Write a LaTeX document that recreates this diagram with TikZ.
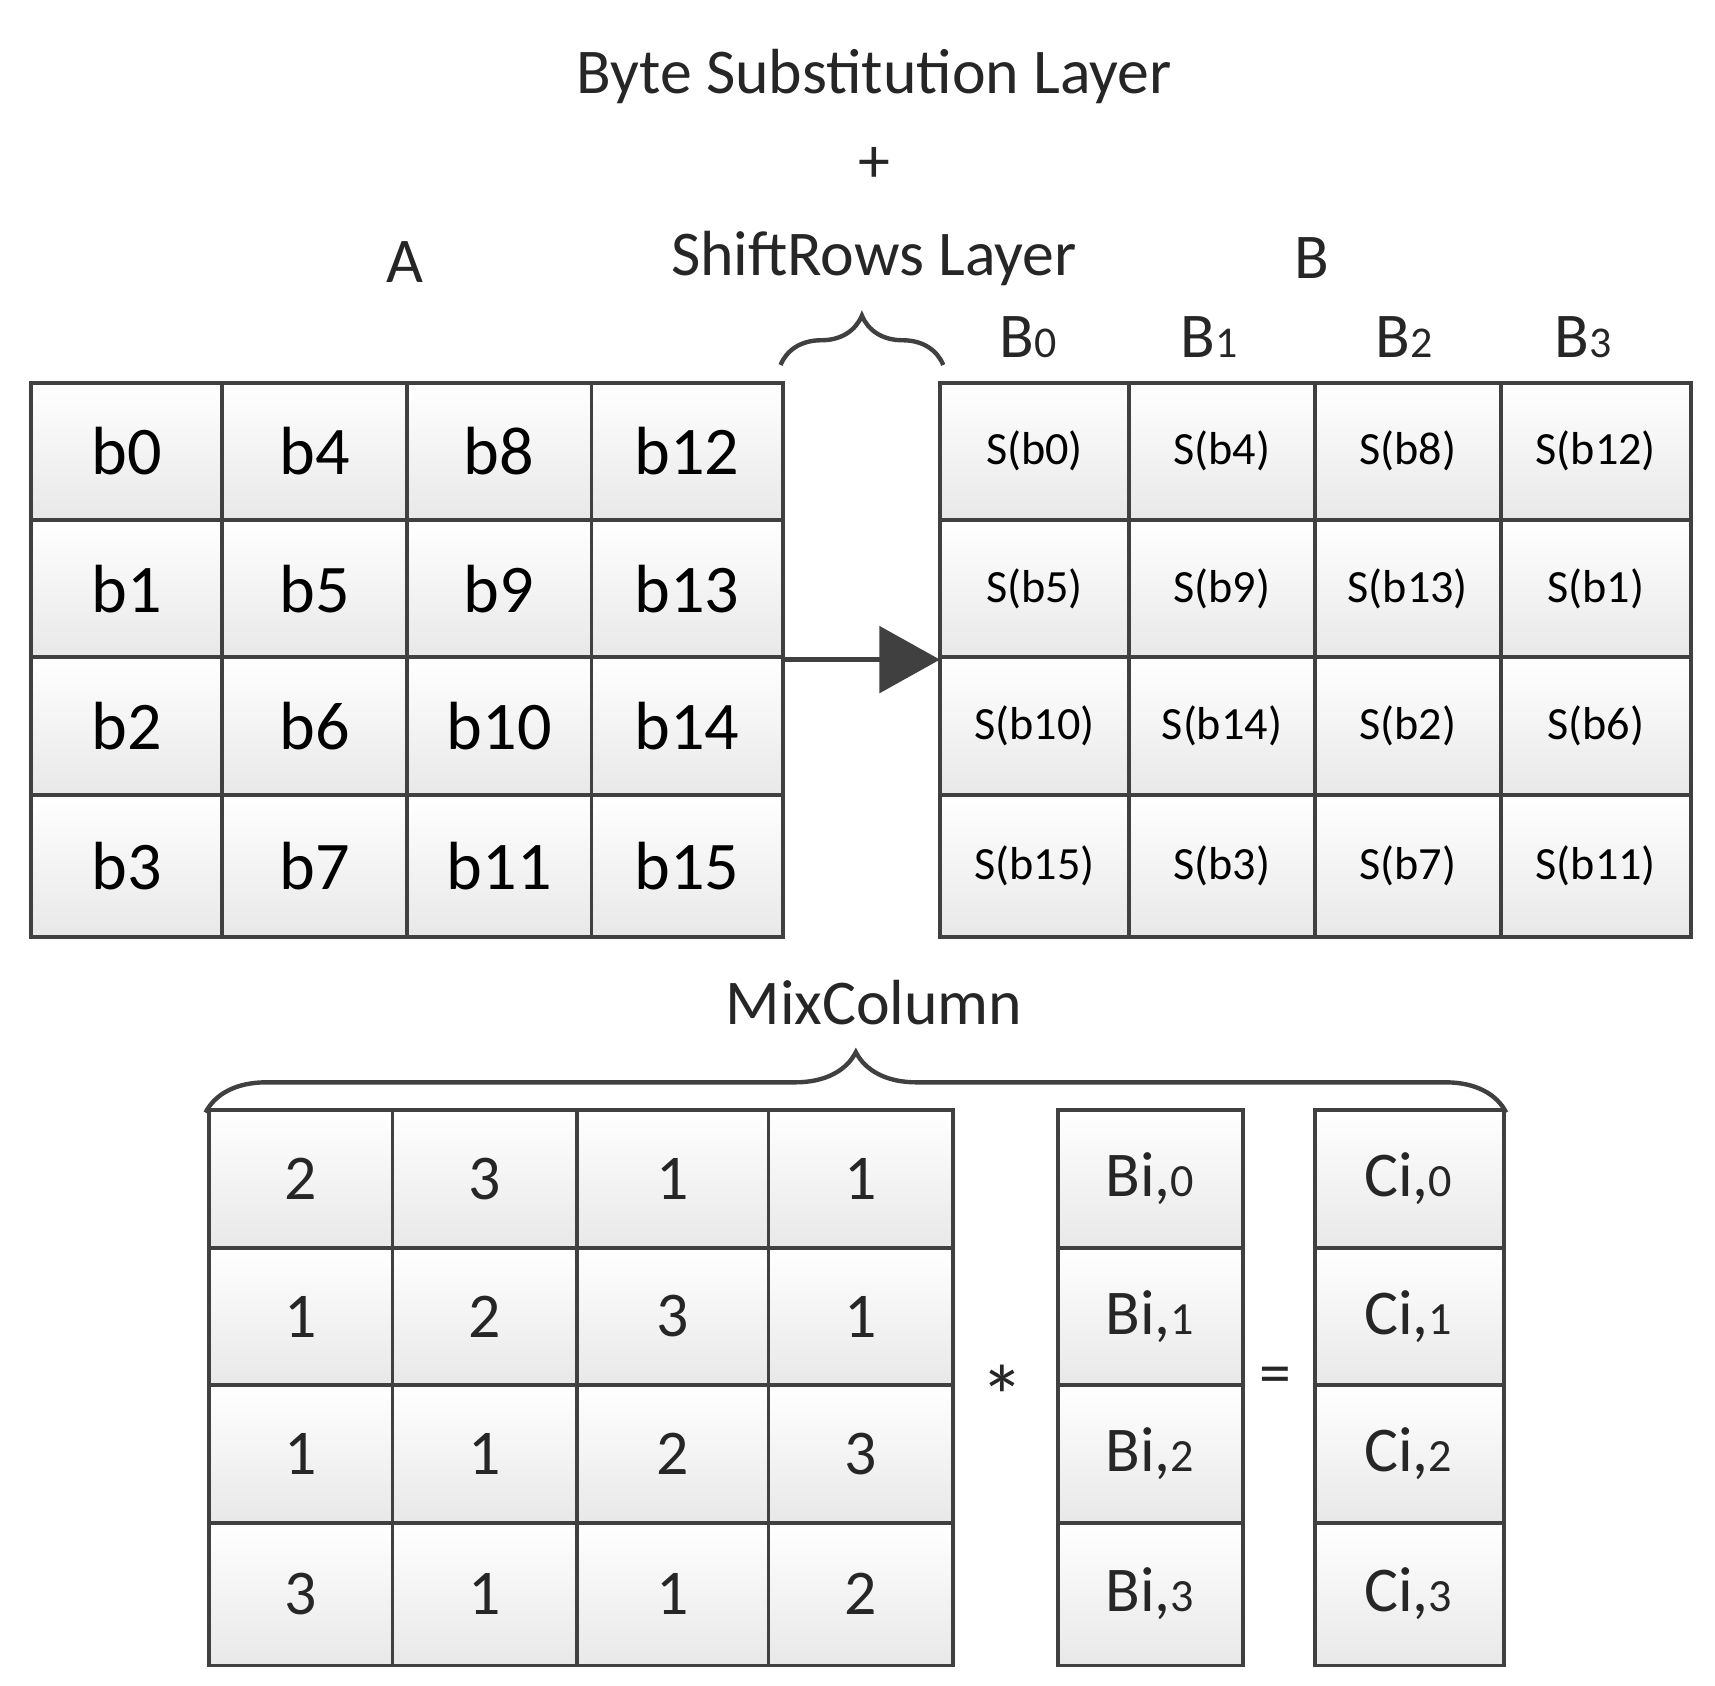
\documentclass[tikz,border=0pt]{standalone}
\usepackage{fontspec}
\setmainfont{Carlito}
\usetikzlibrary{decorations.pathreplacing,arrows.meta,calc}
\begin{document}
\begin{tikzpicture}[x=1pt,y=-1pt,
  cell/.style={draw=black!75,line width=3.5pt,top color=white,bottom color=black!9,inner sep=0pt},
  big/.style={font=\fontsize{62}{64}\selectfont},
  small/.style={font=\fontsize{42}{44}\selectfont},
  lab/.style={font=\fontsize{58}{60}\selectfont,text=black!85},
  brc/.style={decorate,decoration={brace,amplitude=#1},draw=black!75,line width=4pt}]
\useasboundingbox (0,0) rectangle (1560,1533);
\def\ax{{28,202,370,538,712}}
\def\by{{348,473,598,723,852}}
\def\bx{{855,1027,1196,1365,1538}}
\foreach \r/\row in {0/{b0,b4,b8,b12},1/{b1,b5,b9,b13},2/{b2,b6,b10,b14},3/{b3,b7,b11,b15}}{
  \foreach \t [count=\c from 0] in \row {
    \pgfmathsetmacro\xa{\ax[\c]}\pgfmathsetmacro\xb{\ax[\c+1]}
    \pgfmathsetmacro\ya{\by[\r]}\pgfmathsetmacro\yb{\by[\r+1]}
    \path[cell] (\xa,\ya) rectangle (\xb,\yb);
    \node[big] (a\r\c) at ({(\xa+\xb)/2},{(\ya+\yb)/2}) {\t};
  }}
\foreach \r/\row in {0/{b0,b4,b8,b12},1/{b5,b9,b13,b1},2/{b10,b14,b2,b6},3/{b15,b3,b7,b11}}{
  \foreach \t [count=\c from 0] in \row {
    \pgfmathsetmacro\xa{\bx[\c]}\pgfmathsetmacro\xb{\bx[\c+1]}
    \pgfmathsetmacro\ya{\by[\r]}\pgfmathsetmacro\yb{\by[\r+1]}
    \path[cell] (\xa,\ya) rectangle (\xb,\yb);
    \node[small] (s\r\c) at ({(\xa+\xb)/2},{(\ya+\yb)/2}) {S(\t)};
  }}
\coordinate (ar1) at (712,600); \coordinate (ar2) at (855,600);
\draw[draw=black!75,line width=5pt,-{Triangle[length=55pt,width=60pt]}] (ar1) -- (ar2);
\node[lab] (t1) at (795,70) {Byte Substitution Layer};
\node[lab] (t2) at (795,150) {+};
\node[lab] (t3) at (795,235) {ShiftRows Layer};
\node[lab] (la) at (368,238) {A};
\node[lab] (lb) at (1193,235) {B};
\foreach \i/\x in {0/935,1/1100,2/1277,3/1440}
  \node[lab] (bl\i) at (\x,307) {B{\fontsize{40}{40}\selectfont\i}};
\draw[brc=45pt] (710,332) -- (858,332);
\node[lab] (mc) at (795,912) {MixColumn};
\draw[brc=55pt] (187,1012) -- (1370,1012);
\def\mx{{190,357,525,699,867}}
\def\my{{1010,1135,1260,1385,1515}}
\foreach \r/\row in {0/{2,3,1,1},1/{1,2,3,1},2/{1,1,2,3},3/{3,1,1,2}}{
  \foreach \t [count=\c from 0] in \row {
    \pgfmathsetmacro\xa{\mx[\c]}\pgfmathsetmacro\xb{\mx[\c+1]}
    \pgfmathsetmacro\ya{\my[\r]}\pgfmathsetmacro\yb{\my[\r+1]}
    \path[cell] (\xa,\ya) rectangle (\xb,\yb);
    \node[lab] (m\r\c) at ({(\xa+\xb)/2},{(\ya+\yb)/2}) {\t};
  }}
\foreach \r in {0,1,2,3}{
  \pgfmathsetmacro\ya{\my[\r]}\pgfmathsetmacro\yb{\my[\r+1]}
  \path[cell] (962,\ya) rectangle (1131,\yb);
  \node[lab] (bi\r) at (1046,{(\ya+\yb)/2}) {Bi,{\fontsize{42}{42}\selectfont\r}};
  \path[cell] (1196,\ya) rectangle (1368,\yb);
  \node[lab] (ci\r) at (1281,{(\ya+\yb)/2}) {Ci,{\fontsize{42}{42}\selectfont\r}};
}
\node[font=\fontsize{80}{80}\selectfont,text=black!85] (star) at (912,1270) {*};
\node[lab] (eq) at (1160,1256) {=};
\end{tikzpicture}
\end{document}
